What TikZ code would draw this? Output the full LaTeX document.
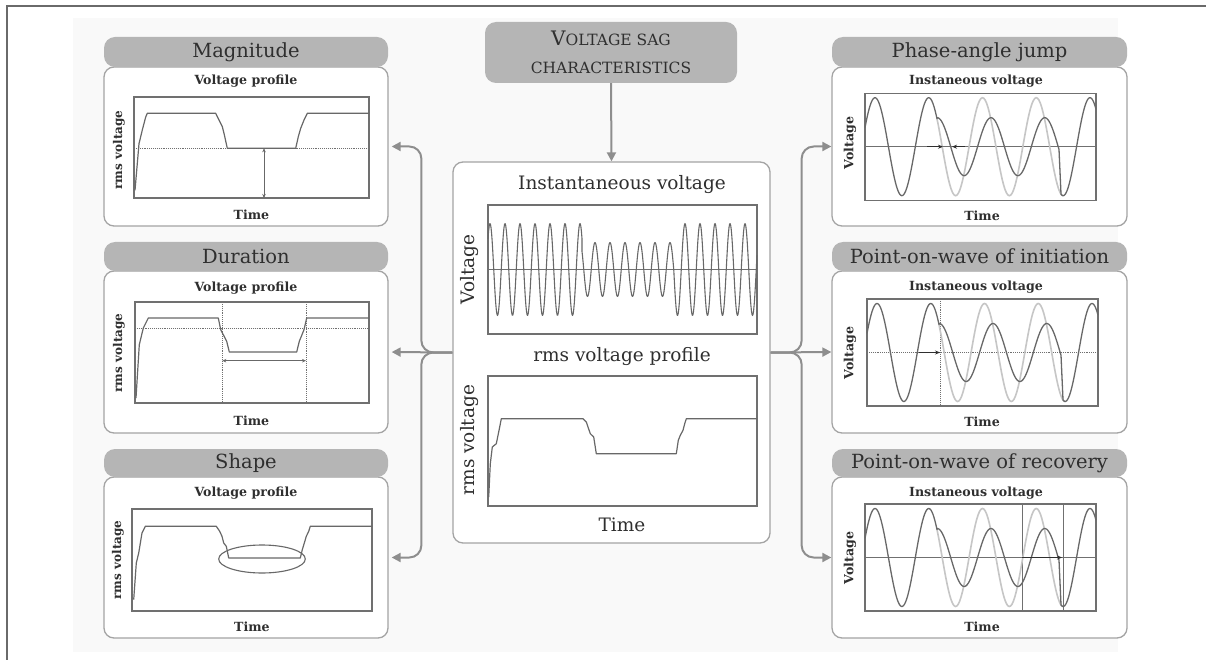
\documentclass[tikz,border=0pt]{standalone}
\usepackage{fontspec}
\setmainfont{DejaVu Serif}
\usetikzlibrary{arrows.meta}
\definecolor{hdr}{HTML}{B5B5B5}
\definecolor{txt}{HTML}{2F2F2F}
\definecolor{bord}{HTML}{A4A4A4}
\definecolor{frm}{HTML}{707070}
\definecolor{wave}{HTML}{686868}
\definecolor{lwave}{HTML}{C6C6C6}
\definecolor{arrc}{HTML}{8E8E8E}
\definecolor{bgc}{HTML}{F9F9F9}
\definecolor{outl}{HTML}{6A6A6A}
\tikzset{
 hbox/.style={fill=hdr, rounded corners=11pt, font=\fontsize{19.5}{22}\selectfont},
 bbox/.style={draw=bord, line width=1.3pt, fill=white, rounded corners=10pt},
 pframe/.style={draw=frm, line width=1.2pt},
 rmsc/.style={draw=wave, line width=1.2pt, line join=round},
 smalltxt/.style={font=\bfseries\fontsize{12.6}{14}\selectfont},
 rmstxt/.style={font=\bfseries\fontsize{12}{14}\selectfont},
 bigtxt/.style={font=\fontsize{18.5}{21}\selectfont},
 arr/.style={draw=arrc, line width=2pt, -{Triangle[length=9pt,width=9pt]}, rounded corners=12pt},
 dotl/.style={draw=frm, line width=0.9pt, densely dotted},
 tickl/.style={draw=wave, line width=0.9pt},
 dbl/.style={tickl, {Stealth[length=4pt,width=3.5pt]}-{Stealth[length=4pt,width=3.5pt]}},
 sgl/.style={draw=txt, line width=1.1pt, -{Stealth[length=5pt,width=4pt]}},
 zl/.style={draw=frm, line width=0.8pt},
 dwave/.style={draw=wave, line width=1.3pt, line join=round},
 lw/.style={draw=lwave, line width=1.6pt},
}
\newcommand{\mywaves}{%
 \draw[lw] plot[domain=72:198, samples=90] (\x,{-49*cos(6.69767*(\x-10))});
 \draw[dwave] plot[domain=0:72,samples=70] (\x,{-49*cos(6.69767*(\x-10))})
   -- plot[domain=72:194,samples=110] (\x,{-29*cos(6.69767*(\x-126))})
   -- plot[domain=196:231,samples=40] (\x,{-49*cos(6.69767*(\x-10))});
}
\begin{document}
\begin{tikzpicture}[x=1pt,y=-1pt, every node/.style={text=txt, inner sep=0pt}]
\useasboundingbox (0,0) rectangle (1206,660);
\fill[white] (0,0) rectangle (1206,660);
\fill[bgc] (73,18) rectangle (1118,652);
\draw[line width=1.5pt, draw=outl] (7,660) -- (7,6) -- (1206,6);

% ---------- left boxes ----------
\node[bbox, minimum width=284pt, minimum height=159pt] (mbody) at (246,146.5) {};
\node[hbox, minimum width=284pt, minimum height=30pt] (mhead) at (246,52) {Magnitude};
\node[bbox, minimum width=284pt, minimum height=162pt] (dbody) at (246,352) {};
\node[hbox, minimum width=284pt, minimum height=29pt] (dhead) at (246,256.5) {Duration};
\node[bbox, minimum width=284pt, minimum height=161pt] (sbody) at (246,557.5) {};
\node[hbox, minimum width=284pt, minimum height=28pt] (shead) at (246,463) {Shape};

% ---------- right boxes ----------
\node[bbox, minimum width=295pt, minimum height=159pt] (pjbody) at (979.5,146.5) {};
\node[hbox, minimum width=295pt, minimum height=30pt] (pjhead) at (979.5,52) {Phase-angle jump};
\node[bbox, minimum width=295pt, minimum height=162pt] (pibody) at (979.5,352) {};
\node[hbox, minimum width=295pt, minimum height=29pt] (pihead) at (979.5,256.5) {Point-on-wave of initiation};
\node[bbox, minimum width=295pt, minimum height=161pt] (prbody) at (979.5,557.5) {};
\node[hbox, minimum width=295pt, minimum height=28pt] (prhead) at (979.5,463) {Point-on-wave of recovery};

% ---------- center ----------
\node[hbox, minimum width=252pt, minimum height=61pt, align=center, font=\fontsize{15.5}{28}\selectfont] (chead) at (611,52.5) {{\fontsize{20}{28}\selectfont V}OLTAGE SAG\\CHARACTERISTICS};
\node[bbox, minimum width=317pt, minimum height=381pt] (cbody) at (611.5,352.5) {};

% ---------- connectors ----------
\draw[arr] (chead.south) -- (cbody.north);
\draw[arr, shorten >=3pt] (cbody.west) -- (dbody.east);
\draw[arr, shorten >=3pt] (cbody.west) -- ++(-31,0) |- (mbody.east);
\draw[arr, shorten >=3pt] (cbody.west) -- ++(-31,0) |- (sbody.east);
\draw[arr] (cbody.east) -- (pibody.west);
\draw[arr] (cbody.east) -- ++(31,0) |- (pjbody.west);
\draw[arr] (cbody.east) -- ++(31,0) |- (prbody.west);

% ---------- center texts ----------
\node[bigtxt] (cinst) at (622,185) {Instantaneous voltage};
\node[bigtxt, rotate=90] (cvolt) at (470,269.5) {Voltage};
\node[bigtxt] (cprof) at (622,357) {rms voltage profile};
\node[bigtxt, rotate=90] (crms) at (470,440) {rms voltage};
\node[bigtxt] (ctime) at (622,525) {Time};

% center upper plot
\draw[pframe] (488,205) rectangle (757,334);
\draw[zl] (488,269.5) -- (757,269.5);
\draw[dwave, line width=1.1pt] plot[domain=488:582, samples=160] (\x,{269.5-46*cos(24*(\x-490))})
  -- plot[domain=582:673.75, samples=160] (\x,{269.5-27*cos(24*(\x-490))})
  -- plot[domain=673.75:757, samples=150] (\x,{269.5-46*cos(24*(\x-490))});

% center lower plot
\begin{scope}[shift={(488,376)}]
\draw[pframe] (0,0) rectangle (269,130);
\draw[rmsc] (0.7,121) -- (2.3,87.7) -- (4.3,71) -- (8.3,67.7) -- (11.7,51) -- (13.3,42.7) -- (95,42.7) -- (98.3,46) -- (100,51) -- (102.3,57.7) -- (105.7,61) -- (108.3,77.7) -- (188.3,77.7) -- (190.3,64.3) -- (192.3,59.3) -- (195,54.3) -- (196.7,47.7) -- (198.3,42.7) -- (269,42.7);
\end{scope}

% ---------- Magnitude ----------
\node[smalltxt] (mvp) at (246,81) {Voltage profile};
\node[smalltxt] (mtime) at (251.5,215) {Time};
\node[rmstxt, rotate=90] (mrms) at (119,150) {rms voltage};
\begin{scope}[shift={(134,97)}]
\draw[pframe] (0,0) rectangle (235,101);
\draw[dotl] (0,51.3) -- (235,51.3);
\draw[rmsc] (1,93.3) -- (5,46.7) -- (8.3,33) -- (11.7,20) -- (13.3,16.3) -- (81.7,16.3) -- (85,23) -- (88.3,29.7) -- (90,36.3) -- (93.3,51.3) -- (161.7,51.3) -- (164.3,39.7) -- (166.7,31.3) -- (170,23) -- (173.3,16.3) -- (235,16.3);
\draw[dbl] (130,51.3) -- (130,101);
\end{scope}

% ---------- Duration ----------
\node[smalltxt] (dvp) at (246,288) {Voltage profile};
\node[smalltxt] (dtime) at (251.5,421) {Time};
\node[rmstxt, rotate=90] (drms) at (119,353) {rms voltage};
\begin{scope}[shift={(135,302)}]
\draw[pframe] (0,0) rectangle (234,101);
\draw[dotl] (0,26) -- (234,26);
\draw[dotl] (87.3,0) -- (87.3,101);
\draw[dotl] (171,0) -- (171,101);
\draw[rmsc] (1,96) -- (4.3,42.7) -- (8.3,26) -- (13.3,16) -- (83.3,16) -- (85.7,27.7) -- (88.3,32.7) -- (91.7,39.3) -- (94.3,50) -- (161.7,50) -- (164.3,39.3) -- (167,32.7) -- (169,27.7) -- (171.7,16) -- (234,16);
\draw[dbl] (87.3,58.7) -- (171,58.7);
\end{scope}

% ---------- Shape ----------
\node[smalltxt] (svp) at (246,493) {Voltage profile};
\node[smalltxt] (stime) at (252,627) {Time};
\node[rmstxt, rotate=90] (srms) at (118,560) {rms voltage};
\begin{scope}[shift={(132,509)}]
\draw[pframe] (0,0) rectangle (240,102);
\draw[rmsc] (1.7,90.7) -- (4.3,54) -- (6.7,44) -- (10,24) -- (13.3,17.3) -- (84.3,17.3) -- (87.7,22.3) -- (90,27.3) -- (91.7,34) -- (94.3,37.3) -- (95.7,44) -- (96.7,49) -- (168.3,49) -- (170.3,40.7) -- (172.3,34) -- (174.3,27.3) -- (176.7,22.3) -- (178.3,17.3) -- (240,17.3);
\draw[wave, line width=1.1pt] (130,50) ellipse [x radius=43.3, y radius=14];
\end{scope}

% ---------- Phase-angle jump ----------
\node[smalltxt] (pjiv) at (976,81) {Instaneous voltage};
\node[smalltxt, rotate=90] (pjv) at (850,143) {Voltage};
\node[smalltxt] (pjtime) at (982,216) {Time};
\begin{scope}[shift={(865,146.7)}]
\draw[pframe] (0,-53.5) rectangle (231,53.5);
\draw[zl] (0,0) -- (231,0);
\mywaves
\draw[sgl] (62,0) -- (78,0);
\draw[sgl] (100,0) -- (87,0);
\end{scope}

% ---------- Point-on-wave of initiation ----------
\node[smalltxt] (piiv) at (976,287.5) {Instaneous voltage};
\node[smalltxt, rotate=90] (piv) at (850,353) {Voltage};
\node[smalltxt] (pitime) at (982,422) {Time};
\begin{scope}[shift={(867,352.5)}]
\draw[pframe] (0,-53.5) rectangle (231,53.5);
\draw[dotl] (0,0) -- (231,0);
\draw[dotl] (73,-53.5) -- (73,53.5);
\mywaves
\draw[sgl] (52,0) -- (73,0);
\end{scope}

% ---------- Point-on-wave of recovery ----------
\node[smalltxt] (priv) at (976,493.5) {Instaneous voltage};
\node[smalltxt, rotate=90] (prv) at (850,558) {Voltage};
\node[smalltxt] (prtime) at (982,627) {Time};
\begin{scope}[shift={(865,557.5)}]
\draw[pframe] (0,-53.5) rectangle (231,53.5);
\draw[zl] (0,0) -- (231,0);
\draw[zl] (157,-53.5) -- (157,53.5);
\draw[zl] (198,-53.5) -- (198,53.5);
\mywaves
\draw[sgl] (157,0) -- (197,0);
\end{scope}
\end{tikzpicture}
\end{document}
